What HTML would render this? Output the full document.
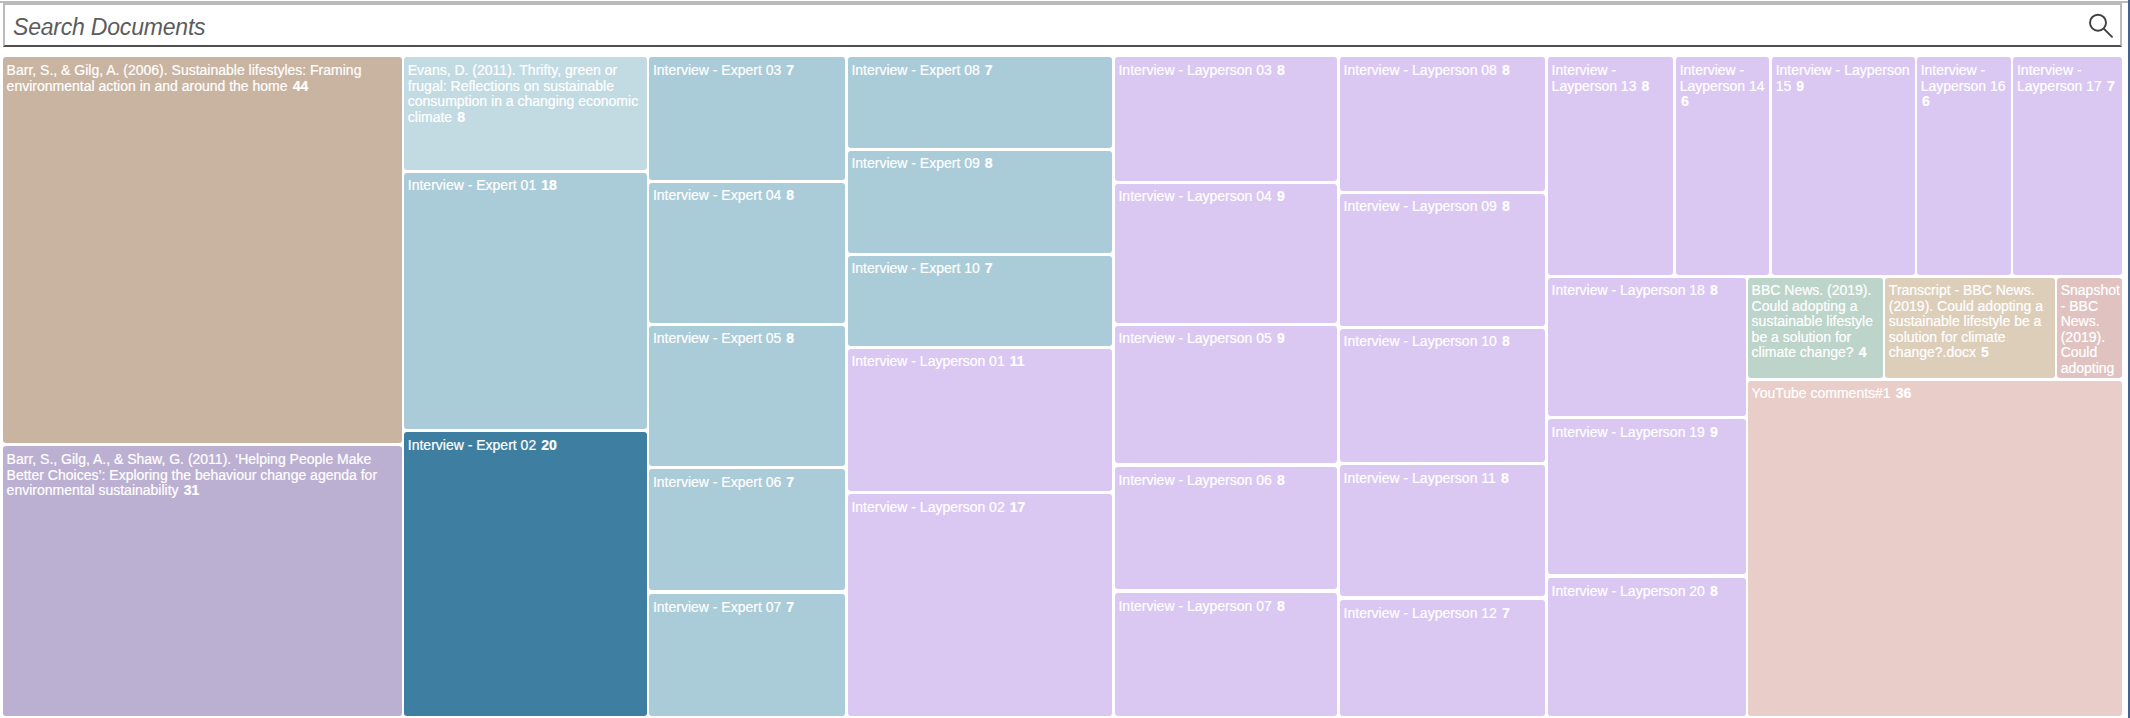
<!DOCTYPE html>
<html><head><meta charset="utf-8">
<style>
html,body{margin:0;padding:0;background:#fff;width:2130px;height:718px;overflow:hidden;position:relative;font-family:"Liberation Sans",sans-serif}
.topline{position:absolute;left:0;top:1px;width:2128px;height:2px;background:#bababa}
.rbar{position:absolute;left:2128px;top:0;width:2px;height:718px;background:#45638a}
.search{position:absolute;left:3px;top:3px;width:2115px;height:40px;border:2px solid #bababa;border-bottom-color:#4f4f4f;background:#fff}
.search span{position:absolute;left:8px;top:9px;font-style:italic;font-size:23px;letter-spacing:-0.2px;color:#5c5c5c;white-space:nowrap}
.search svg{position:absolute;left:0;top:0}
.c{position:absolute;box-sizing:border-box;border-radius:3px;overflow:hidden;color:#fff;-webkit-text-stroke:0.2px #fff;font-size:14px;line-height:15.5px;padding:6px 3.5px 0 3.6px}
.c b{font-weight:bold;margin-left:1.2px}
</style></head><body>
<div class="topline"></div>
<div class="search"><span>Search Documents</span>
<svg width="2115" height="40" viewBox="5 5 2115 40"><circle cx="2098" cy="22.7" r="8" fill="none" stroke="#404040" stroke-width="1.9"/><line x1="2104" y1="28.8" x2="2112" y2="36.8" stroke="#404040" stroke-width="1.9" stroke-linecap="round"/></svg>
</div>
<div class="rbar"></div>
<div class="c" style="left:3px;top:57px;width:399px;height:385.85px;background:#c9b4a2;padding-top:6px">Barr, S., &amp; Gilg, A. (2006). Sustainable lifestyles: Framing environmental action in and around the home <b>44</b></div>
<div class="c" style="left:3px;top:446.0px;width:399px;height:270.0px;background:#bcb0d2;padding-top:6.0px">Barr, S., Gilg, A., &amp; Shaw, G. (2011). ‘Helping People Make Better Choices’: Exploring the behaviour change agenda for environmental sustainability <b>31</b></div>
<div class="c" style="left:404.2px;top:57px;width:242.8px;height:112.9px;background:#c2dbe3;padding-top:6px">Evans, D. (2011). Thrifty, green or frugal: Reflections on sustainable consumption in a changing economic climate <b>8</b></div>
<div class="c" style="left:404.2px;top:173.1px;width:242.8px;height:255.7px;background:#aacbd8;padding-top:4.9px">Interview - Expert 01 <b>18</b></div>
<div class="c" style="left:404.2px;top:431.8px;width:242.8px;height:284.2px;background:#3e7fa1;padding-top:6.2px">Interview - Expert 02 <b>20</b></div>
<div class="c" style="left:649.3px;top:57px;width:195.6px;height:122.8px;background:#aacbd8;padding-top:6px">Interview - Expert 03 <b>7</b></div>
<div class="c" style="left:649.3px;top:182.8px;width:195.6px;height:140.0px;background:#aacbd8;padding-top:5.2px">Interview - Expert 04 <b>8</b></div>
<div class="c" style="left:649.3px;top:325.9px;width:195.6px;height:140.0px;background:#aacbd8;padding-top:5.1px">Interview - Expert 05 <b>8</b></div>
<div class="c" style="left:649.3px;top:468.8px;width:195.6px;height:121.7px;background:#aacbd8;padding-top:6.2px">Interview - Expert 06 <b>7</b></div>
<div class="c" style="left:649.3px;top:593.8px;width:195.6px;height:122.2px;background:#aacbd8;padding-top:6.2px">Interview - Expert 07 <b>7</b></div>
<div class="c" style="left:847.8px;top:57px;width:264.1px;height:91px;background:#aacbd8;padding-top:6px">Interview - Expert 08 <b>7</b></div>
<div class="c" style="left:847.8px;top:151px;width:264.1px;height:101.5px;background:#aacbd8;padding-top:5px">Interview - Expert 09 <b>8</b></div>
<div class="c" style="left:847.8px;top:255.9px;width:264.1px;height:89.95px;background:#aacbd8;padding-top:5.1px">Interview - Expert 10 <b>7</b></div>
<div class="c" style="left:847.8px;top:349.0px;width:264.1px;height:141.7px;background:#dac8f2;padding-top:5.0px">Interview - Layperson 01 <b>11</b></div>
<div class="c" style="left:847.8px;top:494.2px;width:264.1px;height:221.8px;background:#dac8f2;padding-top:5.8px">Interview - Layperson 02 <b>17</b></div>
<div class="c" style="left:1114.9px;top:57px;width:222.0px;height:123.7px;background:#dac8f2;padding-top:6px">Interview - Layperson 03 <b>8</b></div>
<div class="c" style="left:1114.9px;top:184.2px;width:222.0px;height:138.5px;background:#dac8f2;padding-top:4.8px">Interview - Layperson 04 <b>9</b></div>
<div class="c" style="left:1114.9px;top:326.2px;width:222.0px;height:137.3px;background:#dac8f2;padding-top:4.8px">Interview - Layperson 05 <b>9</b></div>
<div class="c" style="left:1114.9px;top:467.2px;width:222.0px;height:122.3px;background:#dac8f2;padding-top:5.8px">Interview - Layperson 06 <b>8</b></div>
<div class="c" style="left:1114.9px;top:593.2px;width:222.0px;height:122.8px;background:#dac8f2;padding-top:5.8px">Interview - Layperson 07 <b>8</b></div>
<div class="c" style="left:1340px;top:57px;width:205.25px;height:133.5px;background:#dac8f2;padding-top:6px">Interview - Layperson 08 <b>8</b></div>
<div class="c" style="left:1340px;top:194.2px;width:205.25px;height:131.5px;background:#dac8f2;padding-top:4.8px">Interview - Layperson 09 <b>8</b></div>
<div class="c" style="left:1340px;top:329.2px;width:205.25px;height:132.5px;background:#dac8f2;padding-top:4.8px">Interview - Layperson 10 <b>8</b></div>
<div class="c" style="left:1340px;top:465.2px;width:205.25px;height:131.3px;background:#dac8f2;padding-top:5.8px">Interview - Layperson 11 <b>8</b></div>
<div class="c" style="left:1340px;top:600.2px;width:205.25px;height:115.8px;background:#dac8f2;padding-top:5.8px">Interview - Layperson 12 <b>7</b></div>
<div class="c" style="left:1548px;top:57px;width:125.3px;height:217.6px;background:#dac8f2;padding-top:6px">Interview - Layperson 13 <b>8</b></div>
<div class="c" style="left:1676.1px;top:57px;width:93.3px;height:217.6px;background:#dac8f2;padding-top:6px">Interview - Layperson 14 <b>6</b></div>
<div class="c" style="left:1772.1px;top:57px;width:142.5px;height:217.6px;background:#dac8f2;padding-top:6px">Interview - Layperson 15 <b>9</b></div>
<div class="c" style="left:1917.1px;top:57px;width:93.7px;height:217.6px;background:#dac8f2;padding-top:6px">Interview - Layperson 16 <b>6</b></div>
<div class="c" style="left:2013.4px;top:57px;width:108.5px;height:217.6px;background:#dac8f2;padding-top:6px">Interview - Layperson 17 <b>7</b></div>
<div class="c" style="left:1548px;top:278.2px;width:197.7px;height:137.5px;background:#dac8f2;padding-top:4.8px">Interview - Layperson 18 <b>8</b></div>
<div class="c" style="left:1548px;top:419.2px;width:197.7px;height:155.3px;background:#dac8f2;padding-top:5.8px">Interview - Layperson 19 <b>9</b></div>
<div class="c" style="left:1548px;top:578.2px;width:197.7px;height:137.8px;background:#dac8f2;padding-top:5.8px">Interview - Layperson 20 <b>8</b></div>
<div class="c" style="left:1748px;top:278px;width:134.75px;height:100px;background:#bcd4ca;padding-top:5px">BBC News. (2019). Could adopting a sustainable lifestyle be a solution for climate change? <b>4</b></div>
<div class="c" style="left:1885.25px;top:278px;width:169.55px;height:100px;background:#ddceba;padding-top:5px">Transcript - BBC News. (2019). Could adopting a sustainable lifestyle be a solution for climate change?.docx <b>5</b></div>
<div class="c" style="left:2057.1px;top:278px;width:64.8px;height:100px;background:#e0c3c1;padding-top:5px">Snapshot - BBC News. (2019). Could adopting a sustainable lifestyle be a solution for climate change? <b>3</b></div>
<div class="c" style="left:1748px;top:381px;width:373.9px;height:335px;background:#e9cdc9;padding-top:5px">YouTube comments#1 <b>36</b></div>
</body></html>
